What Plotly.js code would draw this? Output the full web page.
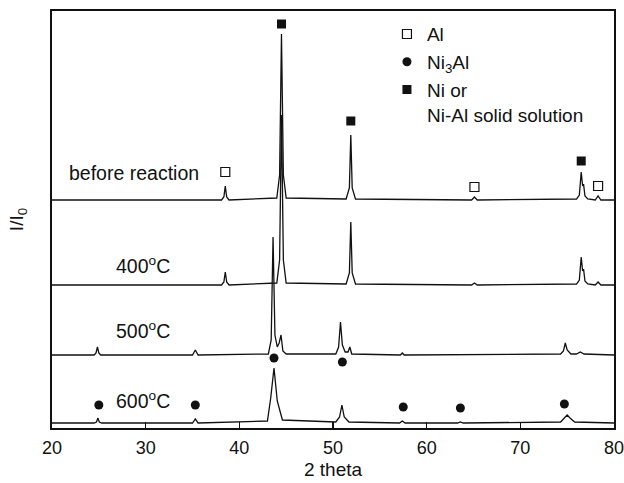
<!DOCTYPE html>
<html>
<head>
<meta charset="utf-8">
<script src="https://cdn.plot.ly/plotly-3.0.1.min.js"></script>
<style>html,body{margin:0;padding:0;background:#fff;}#chart{width:624px;height:483px;}</style>
</head>
<body>
<div id="chart"></div>
<script>
// ---- data (intensity in arbitrary units above each pattern's baseline) ----
var labels = ["before reaction", "400<sup>o</sup>C", "500<sup>o</sup>C", "600<sup>o</sup>C"];
var offsets = [228, 143, 73, 5];

var xBefore = [20, 38.1, 38.35, 38.5, 38.65, 38.9, 44.0, 44.3, 44.5, 44.7, 45.0, 51.4, 51.75, 51.9, 52.05, 52.4, 64.8, 65.1, 65.4, 76.0, 76.3, 76.5, 76.65, 76.75, 76.9, 77.2, 78.0, 78.3, 78.6, 80];
var yBefore = [0, 0, 3, 14, 3, 0, 2, 25, 166, 25, 2, 1, 12, 65, 12, 1, 0, 3, 0, 1, 5, 28, 14, 16, 4, 1, 0, 4, 0, 0];

var x400 = [20, 38.1, 38.35, 38.5, 38.65, 38.9, 44.0, 44.3, 44.5, 44.7, 45.0, 51.4, 51.75, 51.9, 52.05, 52.4, 64.8, 65.1, 65.4, 76.0, 76.3, 76.5, 76.65, 76.75, 76.9, 77.2, 78.0, 78.3, 78.6, 80];
var y400 = [0, 0, 3, 13, 3, 0, 2, 25, 170, 25, 2, 1, 12, 63, 12, 1, 0, 2, 0, 1, 5, 28, 14, 16, 4, 1, 0, 3, 0, 0];

var x500 = [20, 24.5, 24.7, 24.85, 25.0, 25.2, 35.0, 35.3, 35.6, 43.1, 43.4, 43.6, 43.8, 44.05, 44.25, 44.45, 44.65, 45.0, 50.3, 50.6, 50.8, 51.0, 51.3, 51.6, 51.8, 52.0, 57.2, 57.4, 57.6, 74.3, 74.6, 74.8, 75.0, 75.4, 76.0, 76.4, 76.8, 80];
var y500 = [0, 0, 2, 8, 2, 0, 0, 5, 0, 1, 15, 118, 20, 8, 12, 20, 4, 1, 1, 8, 33, 10, 3, 3, 8, 1, 0, 2, 0, 1, 4, 12, 5, 1, 1, 3, 1, 0];

var x600 = [20, 24.5, 24.75, 24.9, 25.05, 25.3, 35.0, 35.3, 35.6, 43.0, 43.35, 43.7, 44.05, 44.6, 50.3, 50.7, 50.95, 51.2, 51.7, 57.1, 57.4, 57.7, 63.3, 63.6, 63.9, 74.3, 74.7, 75.0, 75.3, 75.8, 80];
var y600 = [0, 0, 1, 5, 1, 0, 0, 4, 0, 2, 25, 55, 22, 3, 1, 6, 18, 6, 1, 0, 2, 0, 0, 1, 0, 1, 5, 8, 5, 1, 0];

// phase markers placed above the peaks
var alX = [38.5, 65.1, 78.3];
var alY = [256, 241, 242];
var ni3alX = [25.0, 35.3, 43.7, 51.0, 57.5, 63.6, 74.7];
var ni3alY = [23, 23, 70, 66, 21, 20, 24];
var niX = [44.5, 51.9, 76.5];
var niY = [404, 307, 267];

var legendNames = ["Al", "Ni<sub>3</sub>Al", "Ni or<br>Ni-Al solid solution"];
var xTicks = [20, 30, 40, 50, 60, 70, 80];

// ---- build traces ----
function shift(arr, off) { return arr.map(function (v) { return v + off; }); }
var patterns = [[xBefore, yBefore], [x400, y400], [x500, y500], [x600, y600]];
var traces = patterns.map(function (p, i) {
  return {x: p[0], y: shift(p[1], offsets[i]), mode: 'lines', type: 'scatter',
          line: {color: '#111', width: 1.3}, showlegend: false, hoverinfo: 'skip'};
});
traces.push({x: alX, y: alY, mode: 'markers', type: 'scatter', name: legendNames[0],
  marker: {symbol: 'square-open', size: 9, color: '#111', line: {width: 1.2, color: '#111'}}});
traces.push({x: ni3alX, y: ni3alY, mode: 'markers', type: 'scatter', name: legendNames[1],
  marker: {symbol: 'circle', size: 9, color: '#111'}});
traces.push({x: niX, y: niY, mode: 'markers', type: 'scatter', name: legendNames[2],
  marker: {symbol: 'square', size: 9, color: '#111'}});

var labelX = [134, 143, 143, 143];
var labelYpx = [173, 265, 330, 400];
var annotations = labels.map(function (t, i) {
  return {text: t, xref: 'paper', yref: 'paper', x: (labelX[i] - 52) / 562, y: (428 - labelYpx[i]) / 417,
          xanchor: 'center', yanchor: 'middle', showarrow: false,
          font: {family: 'Liberation Sans, Arial, sans-serif', size: 19.5, color: '#111'}};
});

var layout = {
  width: 624, height: 483,
  margin: {l: 52, r: 10, t: 11, b: 55},
  paper_bgcolor: '#fff', plot_bgcolor: '#fff',
  font: {family: 'Liberation Sans, Arial, sans-serif', color: '#111'},
  xaxis: {range: [20, 80], tickvals: xTicks, ticktext: xTicks.map(String), ticks: 'inside', ticklen: 6,
          tickwidth: 1.2, tickcolor: '#111', showline: true, mirror: true, linecolor: '#111', linewidth: 1.6,
          showgrid: false, zeroline: false, tickfont: {size: 18}, ticklabelstandoff: 3,
          ticklabeloverflow: 'allow',
          title: {text: '2 theta', font: {size: 19}, standoff: 5}},
  yaxis: {range: [0, 417], showticklabels: false, ticks: '', showline: true, mirror: true, linecolor: '#111',
          linewidth: 1.6, showgrid: false, zeroline: false,
          title: {text: 'I/I<sub>0</sub>', font: {size: 19}, standoff: 22}},
  showlegend: true,
  legend: {x: 0.596, y: 0.99, xanchor: 'left', yanchor: 'top', bgcolor: 'rgba(0,0,0,0)', borderwidth: 0,
           font: {size: 19, color: '#111'}, valign: 'top', tracegroupgap: 0},
  annotations: annotations
};

Plotly.newPlot('chart', traces, layout, {staticPlot: true, displayModeBar: false});
</script>
</body>
</html>
